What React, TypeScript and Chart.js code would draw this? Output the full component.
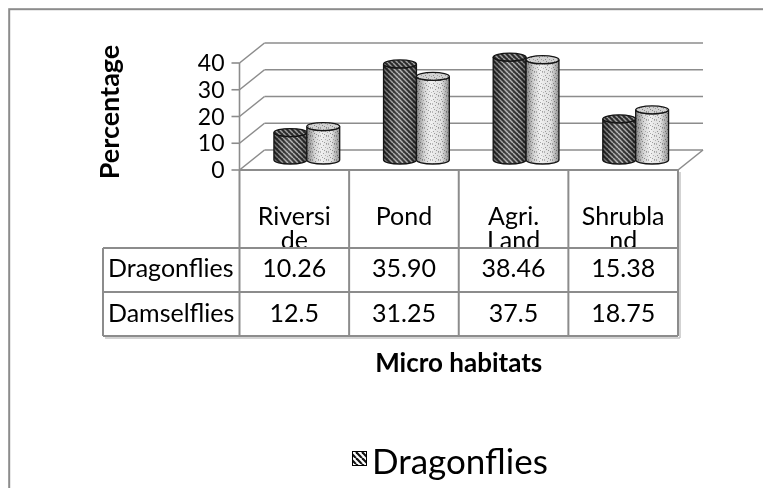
import React, { useEffect, useRef } from 'react';
import { Chart, registerables } from 'chart.js';

Chart.register(...registerables);

// ---------- data ----------
const CATEGORIES = ['Riverside', 'Pond', 'Agri. Land', 'Shrubland'];
const CATEGORY_LINES = [['Riversi', 'de'], ['Pond'], ['Agri.', 'Land'], ['Shrubla', 'nd']];
const SERIES_NAMES = ['Dragonflies', 'Damselflies'];
const DRAGONFLIES = [10.26, 35.9, 38.46, 15.38];
const DAMSELFLIES = [12.5, 31.25, 37.5, 18.75];
const DRAGON_LABELS = ['10.26', '35.90', '38.46', '15.38'];
const DAMSEL_LABELS = ['12.5', '31.25', '37.5', '18.75'];
const Y_TICKS = [0, 10, 20, 30, 40];
const Y_TITLE = 'Percentage';
const X_TITLE = 'Micro habitats';

// ---------- styling ----------
const FONT = 'Lato, "Open Sans", sans-serif';
const GRID = '#8c8c8c';
const DX = 12.5; // depth offset mid-plane -> back plane
const DY = 10;
const W = 763;
const H = 480;

function makeHatch(size: number, bg: string, fg: string, lw: number) {
  const c = document.createElement('canvas');
  c.width = size;
  c.height = size;
  const g = c.getContext('2d')!;
  g.fillStyle = bg;
  g.fillRect(0, 0, size, size);
  g.strokeStyle = fg;
  g.lineWidth = lw;
  for (const o of [-size, 0, size]) {
    g.beginPath();
    g.moveTo(o, 0);
    g.lineTo(o + size, size);
    g.stroke();
  }
  return c;
}

const DOT_SPOTS = [
  [0, 0], [3, 1], [6, 0], [1, 3], [5, 3], [2, 5], [7, 4], [4, 6], [0, 7], [6, 7],
];
function makeDots() {
  const c = document.createElement('canvas');
  c.width = 8;
  c.height = 8;
  const g = c.getContext('2d')!;
  g.fillStyle = '#efefef';
  g.fillRect(0, 0, 8, 8);
  DOT_SPOTS.forEach(([x, y], i) => {
    g.fillStyle = i % 2 ? '#9a9a9a' : '#b5b5b5';
    g.fillRect(x, y, 1, 1);
  });
  return c;
}

function drawCylinder(ctx: CanvasRenderingContext2D, x: number, top: number, base: number, w: number, pat: CanvasPattern) {
  const rx = w / 2;
  const ry = 4;
  const L = x - rx;
  const R = x + rx;
  ctx.save();
  ctx.beginPath();
  ctx.moveTo(L, top);
  ctx.lineTo(L, base);
  ctx.ellipse(x, base, rx, ry, 0, Math.PI, 0, true);
  ctx.lineTo(R, top);
  ctx.ellipse(x, top, rx, ry, 0, 0, Math.PI, false);
  ctx.closePath();
  ctx.fillStyle = pat;
  ctx.fill();
  const gr = ctx.createLinearGradient(L, 0, R, 0);
  gr.addColorStop(0, 'rgba(0,0,0,0.45)');
  gr.addColorStop(0.25, 'rgba(0,0,0,0.1)');
  gr.addColorStop(0.45, 'rgba(255,255,255,0.12)');
  gr.addColorStop(0.75, 'rgba(0,0,0,0.05)');
  gr.addColorStop(1, 'rgba(0,0,0,0.4)');
  ctx.fillStyle = gr;
  ctx.fill();
  ctx.strokeStyle = '#151515';
  ctx.lineWidth = 1.3;
  ctx.stroke();
  ctx.beginPath();
  ctx.ellipse(x, top, rx, ry, 0, 0, Math.PI * 2);
  ctx.fillStyle = pat;
  ctx.fill();
  ctx.fillStyle = 'rgba(0,0,0,0.12)';
  ctx.fill();
  ctx.stroke();
  ctx.restore();
}

function line(ctx: CanvasRenderingContext2D, x1: number, y1: number, x2: number, y2: number) {
  ctx.beginPath();
  ctx.moveTo(x1, y1);
  ctx.lineTo(x2, y2);
  ctx.stroke();
}

const excelPlugin = {
  id: 'excel3d',
  beforeDraw(chart: any) {
    const ctx: CanvasRenderingContext2D = chart.ctx;
    ctx.save();
    ctx.fillStyle = '#ffffff';
    ctx.fillRect(0, 0, W, H);
    ctx.strokeStyle = GRID;
    ctx.lineWidth = 2;
    ctx.strokeRect(1.2, 1.2, W + 50, H + 50);
    ctx.restore();
  },
  beforeDatasetsDraw(chart: any) {
    const ctx: CanvasRenderingContext2D = chart.ctx;
    const ys = chart.scales.y;
    const left = chart.chartArea.left;
    const right = chart.chartArea.right;
    ctx.save();
    ctx.strokeStyle = GRID;
    ctx.lineWidth = 1.6;
    Y_TICKS.forEach((v) => {
      const y = ys.getPixelForValue(v);
      line(ctx, left + DX, y - DY, right + DX, y - DY);
      line(ctx, left - DX, y + DY, left + DX, y - DY);
      line(ctx, left - DX - 8, y + DY, left - DX, y + DY);
    });
    const y0 = ys.getPixelForValue(0);
    const yTop = ys.getPixelForValue(Y_TICKS[Y_TICKS.length - 1]);
    line(ctx, right - DX, y0 + DY, right + DX, y0 - DY);
    line(ctx, left - DX, yTop + DY, left - DX, y0 + DY);
    ctx.fillStyle = '#000';
    ctx.font = `23px ${FONT}`;
    ctx.textAlign = 'right';
    ctx.textBaseline = 'alphabetic';
    Y_TICKS.forEach((v) => {
      const y = ys.getPixelForValue(v) + DY;
      ctx.fillText(String(v), left - DX - 15, y + 8);
    });
    ctx.restore();
  },
  afterDatasetsDraw(chart: any) {
    const ctx: CanvasRenderingContext2D = chart.ctx;
    const pats = [
      ctx.createPattern(makeHatch(5, '#333333', '#b8b8b8', 1.5), 'repeat')!,
      ctx.createPattern(makeDots(), 'repeat')!,
    ];
    [0, 1].forEach((di) => {
      const meta = chart.getDatasetMeta(di);
      meta.data.forEach((el: any) => {
        const p = el.getProps(['x', 'y', 'base', 'width'], true);
        drawCylinder(ctx, p.x, p.y, p.base, p.width, pats[di]);
      });
    });
  },
  afterDraw(chart: any) {
    const ctx: CanvasRenderingContext2D = chart.ctx;
    const xs = chart.scales.x;
    const ys = chart.scales.y;
    const left = chart.chartArea.left;
    const right = chart.chartArea.right;
    const n = CATEGORIES.length;
    const cw = (right - left) / n;
    const cols: number[] = [];
    for (let i = 0; i <= n; i++) cols.push(xs.getPixelForValue(Math.min(i, n - 1)) + (i === n ? cw / 2 : -cw / 2) - DX);
    const tTop = ys.getPixelForValue(0) + DY;
    const hBot = tTop + 78;
    const r1 = hBot + 44;
    const r2 = r1 + 44;
    const labLeft = 95;

    ctx.save();
    ctx.strokeStyle = GRID;
    ctx.lineWidth = 2;
    line(ctx, cols[0], tTop, cols[n], tTop);
    line(ctx, labLeft, hBot, cols[n], hBot);
    line(ctx, labLeft, r1, cols[n], r1);
    line(ctx, labLeft, r2, cols[n], r2);
    cols.forEach((c) => line(ctx, c, tTop, c, r2));
    line(ctx, labLeft, hBot, labLeft, r2);
    ctx.strokeStyle = '#c4c4c4';
    ctx.lineWidth = 1.5;
    line(ctx, cols[n] + 2, tTop + 2, cols[n] + 2, r2 + 2);
    line(ctx, labLeft + 2, r2 + 2, cols[n] + 2, r2 + 2);

    ctx.fillStyle = '#000';
    ctx.font = `25px ${FONT}`;
    ctx.textAlign = 'center';
    ctx.textBaseline = 'alphabetic';
    CATEGORY_LINES.forEach((lines, i) => {
      const cx = (cols[i] + cols[i + 1]) / 2;
      ctx.save();
      ctx.beginPath();
      ctx.rect(cols[i] + 1, tTop + 1, cols[i + 1] - cols[i] - 2, hBot - tTop - 2);
      ctx.clip();
      lines.forEach((t, k) => ctx.fillText(t, cx, tTop + 55 + k * 24));
      ctx.restore();
    });
    const rowLabels = [DRAGON_LABELS, DAMSEL_LABELS];
    const baselines = [hBot + 29, r1 + 30];
    SERIES_NAMES.forEach((name, ri) => {
      ctx.textAlign = 'left';
      ctx.fillText(name, labLeft + 5, baselines[ri]);
      ctx.textAlign = 'center';
      rowLabels[ri].forEach((t, i) => ctx.fillText(t, (cols[i] + cols[i + 1]) / 2, baselines[ri]));
    });

    ctx.font = `bold 27px ${FONT}`;
    ctx.textAlign = 'center';
    ctx.save();
    ctx.translate(111, 104);
    ctx.rotate(-Math.PI / 2);
    ctx.fillText(Y_TITLE, 0, 0);
    ctx.restore();
    ctx.font = `bold 26px ${FONT}`;
    ctx.fillText(X_TITLE, (cols[0] + cols[n]) / 2, r2 + 36);

    const lp = ctx.createPattern(makeHatch(6, '#ffffff', '#111111', 2.2), 'repeat')!;
    ctx.fillStyle = lp;
    ctx.fillRect(344, 443, 15, 15);
    ctx.strokeStyle = '#000';
    ctx.lineWidth = 1;
    ctx.strokeRect(344.5, 443.5, 14, 14);
    ctx.fillStyle = '#000';
    ctx.font = `35px ${FONT}`;
    ctx.textAlign = 'left';
    ctx.fillText(SERIES_NAMES[0], 364, 466);
    ctx.restore();
  },
};

export default function App() {
  const ref = useRef<HTMLCanvasElement>(null);
  useEffect(() => {
    document.documentElement.style.overflow = 'hidden';
    document.body.style.overflow = 'hidden';
    const canvas = ref.current!;
    const chart = new Chart(canvas, {
      type: 'bar',
      data: {
        labels: CATEGORIES,
        datasets: [
          { label: SERIES_NAMES[0], data: DRAGONFLIES, backgroundColor: 'rgba(0,0,0,0)', borderWidth: 0, categoryPercentage: 0.6, barPercentage: 1 },
          { label: SERIES_NAMES[1], data: DAMSELFLIES, backgroundColor: 'rgba(0,0,0,0)', borderWidth: 0, categoryPercentage: 0.6, barPercentage: 1 },
        ],
      },
      options: {
        responsive: false,
        animation: false,
        layout: { padding: { left: 244, right: 80.5, top: 45, bottom: 328 } },
        plugins: { legend: { display: false }, tooltip: { enabled: false } },
        scales: {
          x: { display: false },
          y: { display: false, min: 0, max: 40 },
        },
      },
      plugins: [excelPlugin],
    } as any);
    return () => chart.destroy();
  }, []);
  return <canvas ref={ref} width={W} height={H} style={{ display: 'block' }} />;
}
